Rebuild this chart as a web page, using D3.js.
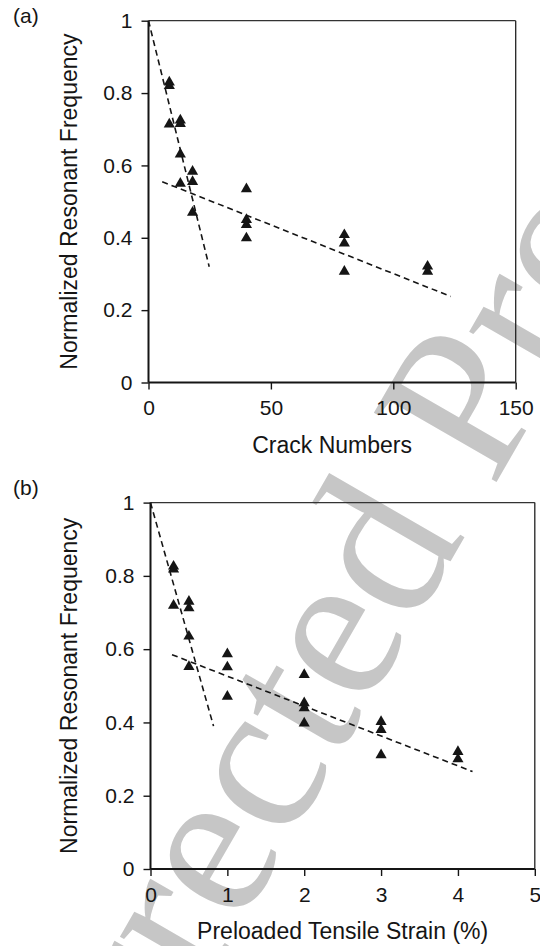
<!DOCTYPE html>
<html>
<head>
<meta charset="utf-8">
<script src="https://cdn.jsdelivr.net/npm/d3@7"></script>
<style>
  html, body { margin: 0; padding: 0; background: #fff; }
  svg { display: block; }
</style>
</head>
<body>
<svg id="chart" width="540" height="946"></svg>
<script>
// ---------------- data ----------------
const crackNumbers = [8.5, 8.5, 8.5, 13, 13, 13, 13, 18, 18, 18, 40, 40, 40, 40, 80, 80, 80, 114, 114];
const freqA        = [0.83, 0.82, 0.714, 0.725, 0.715, 0.631, 0.55, 0.583, 0.555, 0.47, 0.535, 0.45, 0.436, 0.399, 0.408, 0.385, 0.307, 0.321, 0.307];
const strainPct    = [0.3, 0.3, 0.3, 0.5, 0.5, 0.5, 0.5, 1, 1, 1, 2, 2, 2, 2, 3, 3, 3, 4, 4];
const freqB        = [0.826, 0.818, 0.719, 0.73, 0.712, 0.635, 0.552, 0.587, 0.551, 0.471, 0.53, 0.453, 0.439, 0.398, 0.402, 0.38, 0.311, 0.32, 0.30];

const steepA_x   = [0, 24.8];
const steepA_y   = [1, 0.32];
const shallowA_x = [5.6, 123.4];
const shallowA_y = [0.555, 0.238];
const steepB_x   = [0, 0.82];
const steepB_y   = [1, 0.39];
const shallowB_x = [0.28, 4.19];
const shallowB_y = [0.585, 0.266];

const yTicks  = [0, 0.2, 0.4, 0.6, 0.8, 1];
const xTicksA = [0, 50, 100, 150];
const xTicksB = [0, 1, 2, 3, 4, 5];

const yTitle  = "Normalized Resonant Frequency";
const xTitleA = "Crack Numbers";
const xTitleB = "Preloaded Tensile Strain (%)";
const panelLabels = ["(a)", "(b)"];
const watermark = "Corrected Proof";

// ---------------- drawing ----------------
const svg = d3.select("#chart");
const SANS = "'Liberation Sans', Arial, Helvetica, sans-serif";
const INK = "#151515";

// watermark (behind everything)
svg.append("text")
  .attr("transform", "translate(42,1269) rotate(-60)")
  .attr("font-family", "'Liberation Serif', 'Times New Roman', serif")
  .attr("font-size", 215)
  .attr("fill", "#c6c6c6")
  .text(watermark);

function panel(cfg) {
  const x = d3.scaleLinear().domain(cfg.xDomain).range([cfg.left, cfg.right]);
  const y = d3.scaleLinear().domain([0, 1]).range([cfg.bottom, cfg.top]);
  const g = svg.append("g");

  // frame: top and right (thin)
  g.append("line").attr("x1", cfg.left).attr("x2", cfg.right).attr("y1", cfg.top).attr("y2", cfg.top)
    .attr("stroke", "#333").attr("stroke-width", 1.3);
  g.append("line").attr("x1", cfg.right).attr("x2", cfg.right).attr("y1", cfg.top).attr("y2", cfg.bottom)
    .attr("stroke", "#222").attr("stroke-width", 1.3);

  // axes
  const yAxis = d3.axisLeft(y).tickValues(yTicks).tickSize(7).tickPadding(9).tickFormat(d3.format("~g"));
  const xAxis = d3.axisBottom(x).tickValues(cfg.xTicks).tickSize(7).tickPadding(11).tickFormat(d3.format("~g"));

  const ya = g.append("g").attr("transform", `translate(${cfg.left},0)`).call(yAxis);
  const xa = g.append("g").attr("transform", `translate(0,${cfg.bottom})`).call(xAxis);
  [ya, xa].forEach(a => {
    a.select(".domain").attr("stroke", INK).attr("stroke-width", 2);
    a.selectAll(".tick line").attr("stroke", INK).attr("stroke-width", 1.4);
    a.selectAll(".tick text").attr("fill", INK).attr("font-family", SANS).attr("font-size", 21);
  });
  ya.select(".domain").attr("d", `M0,${cfg.top}V${cfg.bottom}`);
  xa.select(".domain").attr("d", `M${cfg.left},0H${cfg.right}`);

  // trend lines
  const line = d3.line().x(d => x(d[0])).y(d => y(d[1]));
  cfg.trends.forEach(t => {
    g.append("path")
      .attr("d", line(d3.zip(t[0], t[1])))
      .attr("fill", "none").attr("stroke", INK)
      .attr("stroke-width", 1.6).attr("stroke-dasharray", "6,4");
  });

  // markers
  const tri = d3.symbol().type(d3.symbolTriangle).size(54);
  g.selectAll("path.pt").data(d3.zip(cfg.xs, cfg.ys)).join("path")
    .attr("class", "pt")
    .attr("d", tri)
    .attr("transform", d => `translate(${x(d[0])},${y(d[1])})`)
    .attr("fill", INK);

  // titles
  g.append("text")
    .attr("x", (cfg.left + cfg.right) / 2).attr("y", cfg.bottom + 70)
    .attr("text-anchor", "middle").attr("font-family", SANS).attr("font-size", 23)
    .attr("fill", INK).text(cfg.xTitle);
  g.append("text")
    .attr("transform", `translate(77,${(cfg.top + cfg.bottom) / 2}) rotate(-90)`)
    .attr("text-anchor", "middle").attr("font-family", SANS).attr("font-size", 23)
    .attr("fill", INK).text(yTitle);
  g.append("text")
    .attr("x", 13).attr("y", cfg.labelY)
    .attr("font-family", SANS).attr("font-size", 21)
    .attr("fill", INK).text(cfg.label);
}

panel({
  left: 148.5, right: 515.7, top: 20.7, bottom: 382.5,
  xDomain: [0, 150], xTicks: xTicksA, xs: crackNumbers, ys: freqA,
  trends: [[steepA_x, steepA_y], [shallowA_x, shallowA_y]],
  xTitle: xTitleA, label: panelLabels[0], labelY: 23
});
panel({
  left: 150.5, right: 534.8, top: 502.6, bottom: 869,
  xDomain: [0, 5], xTicks: xTicksB, xs: strainPct, ys: freqB,
  trends: [[steepB_x, steepB_y], [shallowB_x, shallowB_y]],
  xTitle: xTitleB, label: panelLabels[1], labelY: 495
});
</script>
</body>
</html>
